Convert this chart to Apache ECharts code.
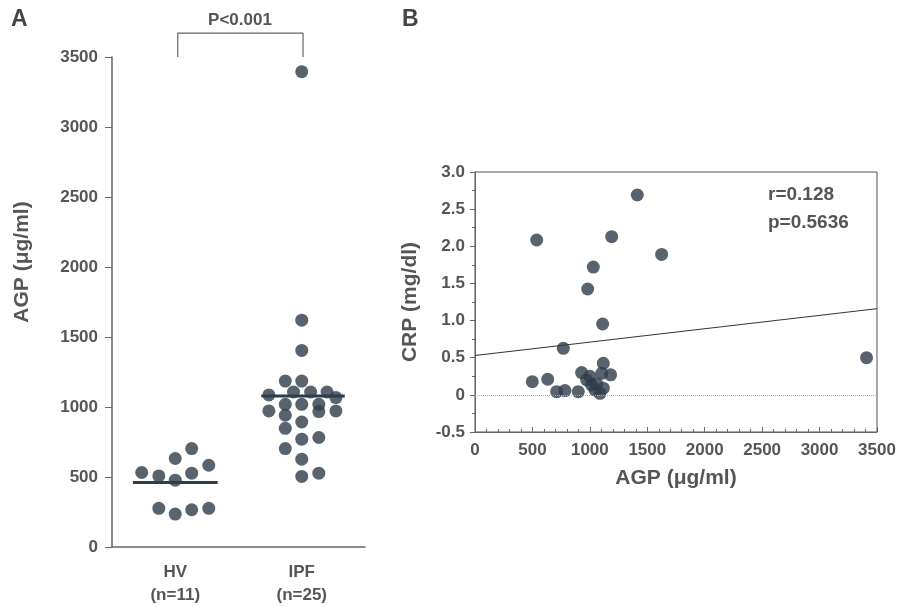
<!DOCTYPE html>
<html>
<head>
<meta charset="utf-8">
<script src="https://cdn.jsdelivr.net/npm/echarts@6/dist/echarts.min.js"></script>
<style>
  html, body { margin: 0; padding: 0; background: #fff; }
  #chart { width: 899px; height: 607px; }
</style>
</head>
<body>
<div id="chart"></div>
<script>
// Panel A: groups, horizontal jitter (offset from group centre) and AGP values
var groups = ['HV\n(n=11)', 'IPF\n(n=25)'];
var hvJitter = [-0.265, -0.13, 0, 0.13, 0.13, 0.265, 0, -0.13, 0, 0.13, 0.265];
var hvAgp    = [532, 508, 632, 703, 527, 584, 477, 276, 235, 266, 276];
var ipfJitter = [0, 0, 0, -0.13, 0, -0.26, -0.065, 0.07, 0.2, 0.27, -0.26, -0.13, 0,
                 0.135, 0.135, 0.27, -0.13, -0.13, 0, -0.13, 0, 0.135, 0, 0, 0.135];
var ipfAgp    = [3395, 1620, 1404, 1185, 1185, 1086, 1107, 1107, 1107, 1067, 972, 1019, 1019,
                 1019, 967, 972, 941, 848, 893, 703, 770, 782, 627, 504, 527];
var groupMeans = [461, 1079];

// Panel B: AGP vs CRP
var agpB = [537, 1413, 1190, 1625, 1030, 981, 1111, 769, 3409,
            499, 633, 711, 783, 899, 928, 972, 1015, 1044, 1088, 1117, 1103, 1181, 1117, 1060, 1000];
var crpB = [2.085, 2.69, 2.13, 1.89, 1.72, 1.425, 0.954, 0.627, 0.50,
            0.178, 0.21, 0.043, 0.057, 0.043, 0.30, 0.20, 0.133, 0.066, 0.02, 0.425, 0.29, 0.27, 0.09, 0.15, 0.25];
var fitLine = [[0, 0.53], [3500, 1.16]];   // regression line
var stats = ['r=0.128', 'p=0.5636'];

var dotColor = '#2f3c4a';
var textColor = '#555';
var axisColor = '#666';
var font = 'Liberation Sans, Arial, sans-serif';

function pairs(offsets, values, centre) {
    return values.map(function (v, i) { return [centre + offsets[i], v]; });
}
function plain(v) { return String(v); }

var chart = echarts.init(document.getElementById('chart'));

var option = {
    animation: false,
    backgroundColor: '#fff',
    textStyle: { fontFamily: font },
    grid: [
        { left: 112, top: 57, width: 253, height: 491 },
        { left: 475, top: 172, width: 402, height: 260, show: true, borderColor: '#555', borderWidth: 1 }
    ],
    xAxis: [
        {
            gridIndex: 0, type: 'category', data: groups, boundaryGap: true,
            axisLine: { lineStyle: { color: axisColor, width: 1.5 } },
            axisTick: { alignWithLabel: true, length: 5, lineStyle: { color: axisColor } },
            axisLabel: { color: textColor, fontSize: 17, fontWeight: 'bold', margin: 14, lineHeight: 23 }
        },
        {
            gridIndex: 0, type: 'value', min: 0, max: 2, show: false
        },
        {
            gridIndex: 1, type: 'value', min: 0, max: 3500, interval: 500,
            name: 'AGP (μg/ml)', nameLocation: 'middle', nameGap: 36,
            nameTextStyle: { color: textColor, fontSize: 21, fontWeight: 'bold' },
            axisLine: { onZero: false, lineStyle: { color: axisColor } },
            axisTick: { inside: true, length: 5, lineStyle: { color: axisColor } },
            minorTick: { show: true, splitNumber: 5, length: 3, lineStyle: { color: axisColor } },
            axisLabel: { color: textColor, fontSize: 17, fontWeight: 'bold', margin: 10, formatter: plain },
            splitLine: { show: false }
        }
    ],
    yAxis: [
        {
            gridIndex: 0, type: 'value', min: 0, max: 3500, interval: 500,
            axisLine: { show: true, lineStyle: { color: axisColor, width: 1.5 } },
            axisTick: { show: true, length: 7, lineStyle: { color: axisColor } },
            axisLabel: { color: textColor, fontSize: 17, fontWeight: 'bold', margin: 14, formatter: plain },
            splitLine: { show: false }
        },
        {
            gridIndex: 1, type: 'value', min: -0.5, max: 3, interval: 0.5,
            name: 'CRP (mg/dl)', nameLocation: 'middle', nameGap: 54,
            nameTextStyle: { color: textColor, fontSize: 21, fontWeight: 'bold' },
            axisLine: { onZero: false, show: true, lineStyle: { color: axisColor } },
            axisTick: { show: true, length: 5, lineStyle: { color: axisColor } },
            minorTick: { show: true, splitNumber: 2, length: 3, lineStyle: { color: axisColor } },
            axisLabel: {
                color: textColor, fontSize: 17, fontWeight: 'bold', margin: 10,
                formatter: function (v) { return v === 0 ? '0' : v.toFixed(1); }
            },
            splitLine: { show: false }
        }
    ],
    graphic: [
        { type: 'text', left: 11, top: 8, style: { text: 'A', fill: '#444', font: 'bold 23px ' + font } },
        { type: 'text', left: 402, top: 8, style: { text: 'B', fill: '#444', font: 'bold 23px ' + font } },
        {
            type: 'text', x: 240, y: 20,
            style: { text: 'P<0.001', fill: textColor, font: 'bold 17px ' + font, align: 'center', verticalAlign: 'middle' }
        },
        {
            type: 'text', x: 22, y: 262, rotation: Math.PI / 2,
            style: { text: 'AGP (μg/ml)', fill: textColor, font: 'bold 21px ' + font, align: 'center', verticalAlign: 'middle' }
        },
        {
            type: 'text', x: 768, y: 195,
            style: { text: stats[0], fill: textColor, font: 'bold 19px ' + font, verticalAlign: 'middle' }
        },
        {
            type: 'text', x: 768, y: 223,
            style: { text: stats[1], fill: textColor, font: 'bold 19px ' + font, verticalAlign: 'middle' }
        }
    ],
    series: [
        {
            type: 'scatter', xAxisIndex: 1, yAxisIndex: 0, symbolSize: 13,
            itemStyle: { color: dotColor },
            data: pairs(hvJitter, hvAgp, 0.5)
        },
        {
            type: 'scatter', xAxisIndex: 1, yAxisIndex: 0, symbolSize: 13, clip: false,
            itemStyle: { color: dotColor },
            data: pairs(ipfJitter, ipfAgp, 1.5)
        },
        {
            type: 'line', xAxisIndex: 1, yAxisIndex: 0, symbol: 'none',
            lineStyle: { color: dotColor, width: 3 },
            data: [[0.5 - 0.335, groupMeans[0]], [0.5 + 0.335, groupMeans[0]]]
        },
        {
            type: 'line', xAxisIndex: 1, yAxisIndex: 0, symbol: 'none',
            lineStyle: { color: dotColor, width: 3 },
            data: [[1.5 - 0.32, groupMeans[1]], [1.5 + 0.34, groupMeans[1]]]
        },
        {
            // significance bracket above the groups
            type: 'line', xAxisIndex: 1, yAxisIndex: 0, symbol: 'none', clip: false,
            lineStyle: { color: axisColor, width: 1.2 },
            data: [[0.52, 3500], [0.52, 3670], [1.51, 3670], [1.51, 3500]]
        },
        {
            type: 'scatter', xAxisIndex: 2, yAxisIndex: 1, symbolSize: 13,
            itemStyle: { color: dotColor },
            data: agpB.map(function (a, i) { return [a, crpB[i]]; }),
            markLine: {
                silent: true, symbol: ['none', 'none'], label: { show: false },
                lineStyle: { color: '#aaa', type: 'dotted', width: 1 },
                data: [{ yAxis: 0 }]
            }
        },
        {
            type: 'line', xAxisIndex: 2, yAxisIndex: 1, symbol: 'none',
            lineStyle: { color: '#333', width: 1 },
            data: fitLine
        }
    ]
};

chart.setOption(option);
</script>
</body>
</html>
